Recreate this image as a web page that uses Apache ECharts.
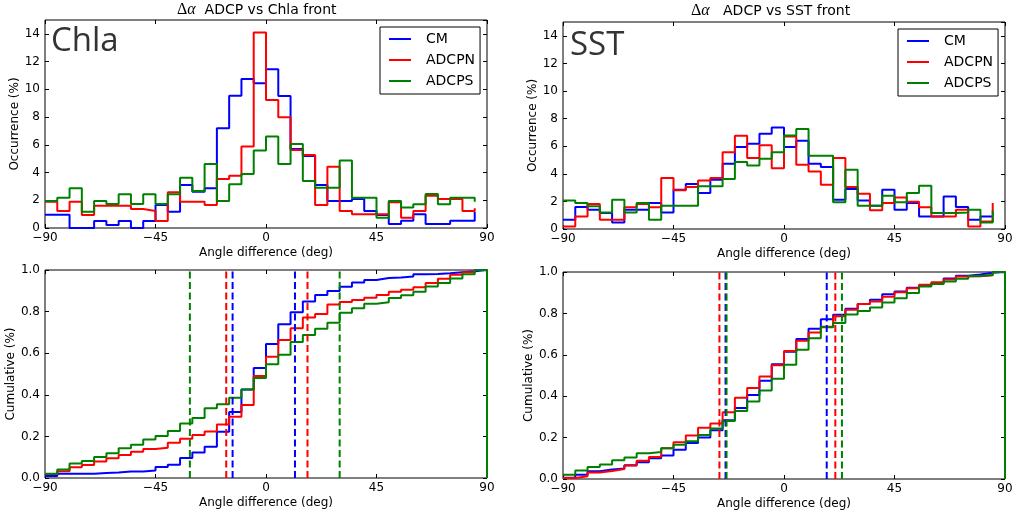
<!DOCTYPE html>
<html><head><meta charset="utf-8">
<script src="https://cdn.jsdelivr.net/npm/echarts@6/dist/echarts.min.js"></script>
<style>html,body{margin:0;padding:0;background:#fff}#c{width:1014px;height:516px}</style>
</head><body><div id="c"></div>
<script>
// ---- data ----
const binLeft = [-90,-85,-80,-75,-70,-65,-60,-55,-50,-45,-40,-35,-30,-25,-20,-15,-10,-5,0,5,10,15,20,25,30,35,40,45,50,55,60,65,70,75,80,85];
const lastEdge = 90;
const seriesNames = ['CM','ADCPN','ADCPS'];

// Occurrence (%) — Chla front
const chlaCM    = [0.95,0.95,0,0,0.5,0.22,0.5,0,0.5,1.66,1.18,3.1,2.62,2.86,7.19,9.54,10.75,10.43,11.44,9.52,5.7,5.2,3.1,1.95,1.95,2.1,1.23,0.94,0.29,0.53,0.99,0.29,0.29,0.53,0.53,1.18];
const chlaADCPN = [1.9,1.23,1.9,0.94,1.6,1.6,1.6,1.37,1.23,0.5,2.57,1.9,1.9,1.66,3.53,3.77,5.87,14.1,9.23,7.98,5.63,5.26,1.66,4.42,1.23,0.99,0.99,0.99,1.85,0.74,1.23,2.33,2.09,2.09,1.23,1.42];
const chlaADCPS = [1.95,2.19,2.86,1.18,1.95,1.73,2.43,1.73,2.43,1.73,2.43,3.63,2.67,4.62,1.95,3.15,3.89,5.58,6.59,4.62,6.06,3.39,2.91,2.91,4.86,2.19,2.19,0.74,1.95,1.47,1.71,2.45,1.71,2.19,2.19,1.9];

// Occurrence (%) — SST front
const sstCM    = [0.67,1.59,1.40,1.16,0.48,1.40,1.40,1.88,1.20,2.85,3.26,2.60,3.57,4.73,5.94,6.18,6.90,7.36,5.94,6.39,4.73,4.49,2.12,2.90,2.07,1.69,2.85,1.40,1.88,0.91,0.91,2.36,1.59,0.67,0.91,0.95];
const sstADCPN = [0.19,0.91,1.81,0.67,0.67,1.57,1.81,1.57,3.69,2.80,3.04,3.52,3.69,5.57,6.76,5.14,6.06,4.41,6.71,4.66,4.17,3.21,5.14,3.04,2.56,1.35,1.88,2.29,1.98,1.57,0.91,0.91,1.40,0.19,0.55,1.88];
const sstADCPS = [2.07,1.88,1.64,1.20,2.12,1.20,1.88,0.67,1.69,1.69,1.69,3.09,3.09,3.62,4.85,4.61,5.09,5.57,6.78,7.24,5.31,5.31,1.93,4.29,1.69,1.69,2.41,1.93,2.60,3.14,1.16,1.16,1.20,1.40,0.48,1.35];

// Cumulative — Chla front
const chlaCumCM    = [0.01,0.02,0.02,0.02,0.024,0.026,0.031,0.031,0.036,0.053,0.064,0.096,0.122,0.150,0.222,0.317,0.425,0.529,0.644,0.739,0.797,0.849,0.880,0.899,0.919,0.940,0.952,0.961,0.964,0.969,0.979,0.981,0.984,0.989,0.994,1.0];
const chlaCumADCPN = [0.019,0.033,0.052,0.063,0.079,0.095,0.111,0.126,0.139,0.145,0.170,0.189,0.207,0.223,0.257,0.294,0.351,0.490,0.583,0.663,0.720,0.772,0.788,0.834,0.846,0.856,0.866,0.880,0.895,0.905,0.917,0.937,0.958,0.977,0.989,1.0];
const chlaCumADCPS = [0.02,0.041,0.07,0.082,0.101,0.119,0.143,0.16,0.185,0.202,0.226,0.262,0.289,0.335,0.355,0.386,0.425,0.481,0.547,0.593,0.654,0.688,0.717,0.746,0.794,0.816,0.838,0.845,0.865,0.879,0.896,0.921,0.938,0.959,0.98,1.0];

// Cumulative — SST front
const sstCumCM    = [0.006,0.021,0.037,0.046,0.051,0.066,0.081,0.1,0.114,0.141,0.174,0.2,0.236,0.284,0.343,0.406,0.475,0.554,0.615,0.676,0.726,0.772,0.793,0.823,0.846,0.866,0.892,0.906,0.924,0.935,0.945,0.968,0.982,0.988,0.996,1.0];
const sstCumADCPN = [0.005,0.013,0.031,0.039,0.048,0.065,0.088,0.106,0.148,0.178,0.21,0.248,0.268,0.322,0.392,0.44,0.495,0.55,0.618,0.668,0.708,0.735,0.786,0.818,0.845,0.858,0.88,0.902,0.922,0.938,0.951,0.964,0.978,0.979,0.984,1.0];
const sstCumADCPS = [0.021,0.041,0.058,0.07,0.091,0.104,0.124,0.131,0.148,0.165,0.182,0.213,0.244,0.28,0.329,0.375,0.428,0.484,0.552,0.624,0.68,0.733,0.754,0.795,0.812,0.829,0.853,0.873,0.899,0.93,0.942,0.954,0.967,0.981,0.986,1.0];

// dashed markers (deg)
const chlaMarkCM = [-13.6, 11.8];
const chlaMarkADCPN = [-16.2, 16.9];
const chlaMarkADCPS = [-31.0, 30.0];
const sstMarkCM = [-23.8, 17.4];
const sstMarkADCPN = [-26.3, 20.9];
const sstMarkADCPS = [-23.4, 23.6];

// ---- styling ----
const colors = ['#0000ff', '#ff0000', '#008000'];
const FONT = 'DejaVu Sans';

const grids = [
  {left: 45,  top: 20,  width: 442, height: 208},
  {left: 563, top: 22,  width: 442, height: 207},
  {left: 45,  top: 270, width: 442, height: 208},
  {left: 563, top: 272, width: 442, height: 207}
].map(g => Object.assign({show: true, borderColor: '#000', borderWidth: 1, backgroundColor: 'transparent', containLabel: false, outerBoundsMode: 'none'}, g));

const tick = {show: true, inside: true, length: 4, lineStyle: {color: '#000', width: 1}};
const noLine = {show: false, onZero: false};
const minus = v => String(v).replace('-', '\u2212');

const xAxis = [], yAxis = [];
const yNames = ['Occurrence (%)', 'Occurrence (%)', 'Cumulative (%)', 'Cumulative (%)'];
const yGaps = [20, 20, 25, 26];
for (let g = 0; g < 4; g++) {
  const isCum = g >= 2;
  xAxis.push({
    type: 'value', gridIndex: g, position: 'bottom', min: -90, max: 90, interval: 45,
    axisLine: noLine, splitLine: {show: false}, axisTick: tick,
    axisLabel: {color: '#000', fontSize: 12, fontFamily: FONT, margin: 4, formatter: minus},
    name: 'Angle difference (deg)', nameLocation: 'middle', nameGap: 19,
    nameTextStyle: {color: '#000', fontSize: 12, fontFamily: FONT}
  });
  xAxis.push({
    type: 'value', gridIndex: g, position: 'top', min: -90, max: 90, interval: 45,
    axisLine: noLine, splitLine: {show: false}, axisTick: tick, axisLabel: {show: false}
  });
  const yBase = isCum
    ? {min: 0, max: 1, interval: 0.2}
    : {min: 0, max: 15, interval: 2};
  yAxis.push(Object.assign({
    type: 'value', gridIndex: g, position: 'left',
    axisLine: noLine, splitLine: {show: false}, axisTick: tick,
    axisLabel: {color: '#000', fontSize: 12, fontFamily: FONT, margin: 5, showMaxLabel: isCum,
      formatter: isCum ? (v => v.toFixed(1)) : (v => String(v))},
    name: yNames[g], nameLocation: 'middle', nameGap: yGaps[g], nameRotate: 90,
    nameTextStyle: {color: '#000', fontSize: 12, fontFamily: FONT}
  }, yBase));
  yAxis.push(Object.assign({
    type: 'value', gridIndex: g, position: 'right',
    axisLine: noLine, splitLine: {show: false}, axisTick: tick, axisLabel: {show: false}
  }, yBase));
}

const stepData = vals => binLeft.map((x, i) => [x, vals[i]]);
const cumData = vals => stepData(vals).concat([[lastEdge, vals[vals.length - 1]], [lastEdge, 0]]);

const series = [];
function addStep(g, vals, k, cum) {
  series.push({
    type: 'line', name: seriesNames[k], xAxisIndex: 2 * g, yAxisIndex: 2 * g,
    data: cum ? cumData(vals) : stepData(vals), step: 'end',
    showSymbol: false, symbol: 'none', animation: false, silent: true,
    lineStyle: {color: colors[k], width: 2}, itemStyle: {color: colors[k]},
    z: 2 + k
  });
}
function addMarks(g, xs, k) {
  xs.forEach(x => series.push({
    type: 'line', name: seriesNames[k] + ' mark', xAxisIndex: 2 * g, yAxisIndex: 2 * g,
    data: [[x, 0], [x, 1]], showSymbol: false, symbol: 'none', animation: false, silent: true,
    lineStyle: {color: colors[k], width: 2, type: [7, 3.5]}, z: 6 + k
  }));
}
[chlaCM, chlaADCPN, chlaADCPS].forEach((v, k) => addStep(0, v, k, false));
[sstCM, sstADCPN, sstADCPS].forEach((v, k) => addStep(1, v, k, false));
[chlaCumCM, chlaCumADCPN, chlaCumADCPS].forEach((v, k) => addStep(2, v, k, true));
[sstCumCM, sstCumADCPN, sstCumADCPS].forEach((v, k) => addStep(3, v, k, true));
[chlaMarkCM, chlaMarkADCPN, chlaMarkADCPS].forEach((v, k) => addMarks(2, v, k));
[sstMarkCM, sstMarkADCPN, sstMarkADCPS].forEach((v, k) => addMarks(3, v, k));

const legendBase = {
  orient: 'vertical', data: seriesNames, icon: 'rect', itemWidth: 22, itemHeight: 2, itemGap: 7,
  padding: [5, 5, 6, 9], borderColor: '#000', borderWidth: 1, backgroundColor: '#fff',
  borderRadius: 0, selectedMode: false,
  textStyle: {color: '#000', fontSize: 14, fontFamily: FONT, padding: [0, 0, 0, 10]},
  z: 20
};
const legend = [
  Object.assign({left: 380, top: 27}, legendBase),
  Object.assign({left: 898, top: 29}, legendBase)
];

const richTitle = {
  d: {fontFamily: 'Liberation Serif', fontSize: 16, color: '#000'},
  a: {fontFamily: 'Liberation Serif', fontSize: 16, fontStyle: 'italic', color: '#000'}
};
const title = [
  {text: '{d|\u0394}{a|\u03b1}  ADCP vs Chla front', left: 177, top: 2, padding: 0,
   textStyle: {color: '#000', fontSize: 14, fontFamily: FONT, fontWeight: 'normal', rich: richTitle}},
  {text: '{d|\u0394}{a|\u03b1}   ADCP vs SST front', left: 691, top: 3, padding: 0,
   textStyle: {color: '#000', fontSize: 14, fontFamily: FONT, fontWeight: 'normal', rich: richTitle}}
];

const graphic = [
  {type: 'text', x: 51, y: 42, z: 10, style: {text: 'Chla', fontSize: 33, fontFamily: 'Open Sans', fill: '#333', textVerticalAlign: 'middle'}},
  {type: 'text', x: 570, y: 46, z: 10, style: {text: 'SST', fontSize: 33, fontFamily: 'Open Sans', fill: '#333', textVerticalAlign: 'middle'}}
];

const chart = echarts.init(document.getElementById('c'), null, {renderer: 'canvas'});
chart.setOption({
  animation: false, backgroundColor: '#fff',
  title, legend, grid: grids, xAxis, yAxis, series, graphic
});
</script></body></html>
